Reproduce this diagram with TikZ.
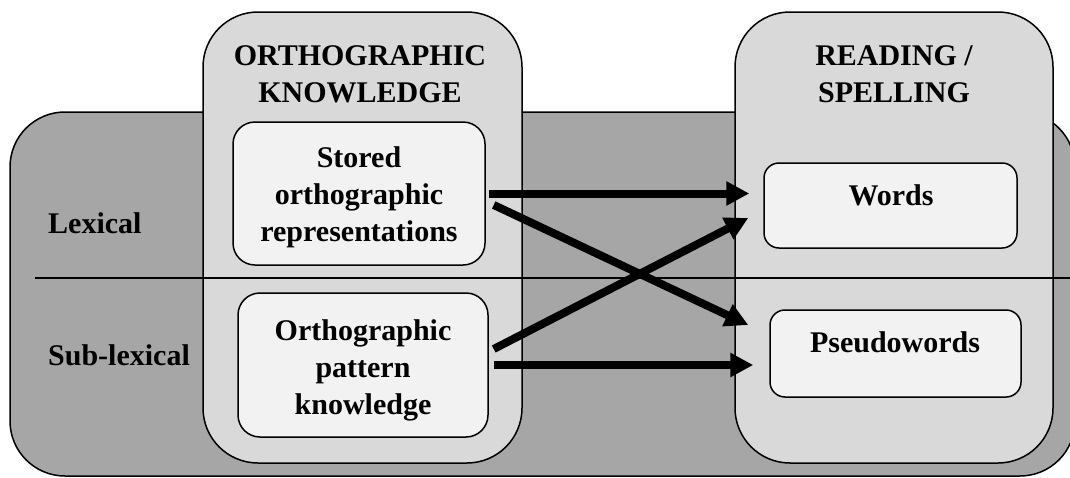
\documentclass[tikz,border=0pt]{standalone}
\usepackage{fontspec}
\setmainfont{Liberation Serif}
\usetikzlibrary{arrows.meta,calc}
\definecolor{darkbg}{HTML}{A6A6A6}
\definecolor{midbox}{HTML}{D9D9D9}
\definecolor{lightbox}{HTML}{F2F2F2}
\tikzset{
  outerbox/.style={draw=black, line width=1.5pt, fill=darkbg, rounded corners=55pt, inner sep=0pt},
  colbox/.style={draw=black, line width=1.5pt, fill=midbox, rounded corners=55pt, inner sep=0pt},
  leftinner/.style={draw=black, line width=1.5pt, fill=lightbox, rounded corners=22pt, inner sep=0pt},
  rightinner/.style={draw=black, line width=1.5pt, fill=lightbox, rounded corners=15pt, inner sep=0pt},
  lbl/.style={font=\fontsize{30}{37}\selectfont\bfseries, align=center, inner sep=0pt, anchor=base},
  rowlbl/.style={font=\fontsize{30}{37}\selectfont\bfseries, inner sep=0pt, anchor=base west},
  divider/.style={draw=black, line width=1.5pt},
  arr/.style={line width=8pt, -{Triangle[length=23pt,width=23pt]}}
}
\begin{document}
\begin{tikzpicture}[x=1pt,y=-1pt]
\clip (0,0) rectangle (1070,477);
% background
\node[outerbox, minimum width=1065pt, minimum height=364pt] (bg) at (542.5,294) {};
% columns
\node[colbox, minimum width=319pt, minimum height=451pt] (ortho) at (362.5,237.5) {};
\node[colbox, minimum width=318pt, minimum height=451pt] (reading) at (894,237.5) {};
% divider
\coordinate (divL) at (35,278);
\coordinate (divR) at (1070,278);
\draw[divider] (divL) -- (divR);
% inner boxes
\node[leftinner, minimum width=252pt, minimum height=143pt] (stored) at (359,193.5) {};
\node[leftinner, minimum width=250pt, minimum height=144pt] (pattern) at (363,365) {};
\node[rightinner, minimum width=253pt, minimum height=85pt] (words) at (890.5,205.5) {};
\node[rightinner, minimum width=251pt, minimum height=87pt] (pseudo) at (895.5,353.5) {};
% texts (multi-line nodes anchored at the baseline of their last line)
\node[lbl] (orthotitle) at (360,102) {ORTHOGRAPHIC\\KNOWLEDGE};
\node[lbl] (readtitle) at (894,102) {READING /\\SPELLING};
\node[rowlbl] (lexical) at (48,233) {Lexical};
\node[rowlbl] (sublexical) at (48,365) {Sub-lexical};
\node[lbl] (storedtext) at (359,241) {Stored\\orthographic\\representations};
\node[lbl] (patterntext) at (363,414) {Orthographic\\pattern\\knowledge};
\node[lbl] (wordstext) at (891,205) {Words};
\node[lbl] (pseudotext) at (895,352) {Pseudowords};
% arrows
\draw[arr] ($(stored.east)+(3,0)$) -- ($(words.west |- stored.east)+(-14,0)$);
\draw[arr] ($(stored.east)+(8,11.5)$) -- ($(pseudo.west)+(-21,-28.5)$);
\draw[arr] ($(pattern.east)+(5,-16)$) -- ($(words.west)+(-15,12.5)$);
\draw[arr] ($(pattern.east)+(5,0)$) -- ($(pseudo.west |- pattern.east)+(-16,0)$);
\end{tikzpicture}
\end{document}
